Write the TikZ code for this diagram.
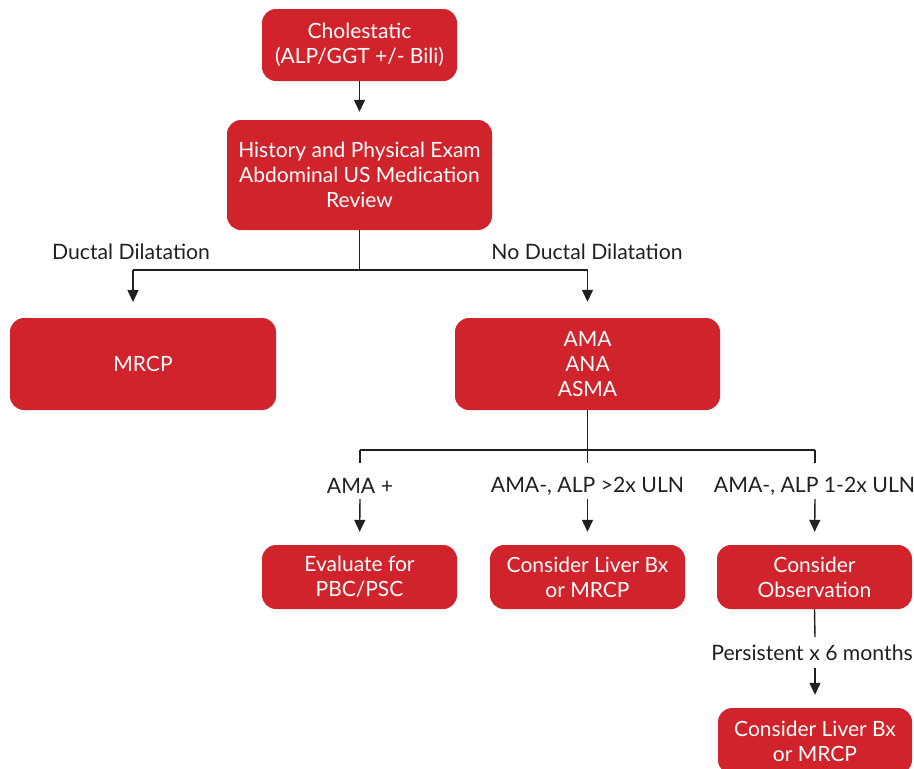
\documentclass[tikz,border=0pt]{standalone}
\usepackage{fontspec}
\setmainfont{Lato}
\usetikzlibrary{arrows.meta}
\definecolor{boxred}{HTML}{D0232B}
\definecolor{ink}{HTML}{231F20}
\begin{document}
\begin{tikzpicture}[x=1pt,y=-1pt,
  box/.style={draw=none,fill=boxred,text=white,rounded corners=14pt,align=center,
    font=\fontsize{21}{24.8}\selectfont,inner sep=0pt},
  lab/.style={text=ink,font=\fontsize{21.2}{24}\selectfont,inner sep=0pt},
  ln/.style={draw=ink,line width=1.4pt},
  arr/.style={ln,-{Triangle[width=11pt,length=12pt]}}]
\useasboundingbox (0,0) rectangle (914,769);
\clip (0,0) rectangle (914,769);
% boxes
\node[box,minimum width=195pt,minimum height=72pt] (c1) at (359.5,45) {Cholestatic\\(ALP/GGT +/- Bili)};
\node[box,minimum width=265pt,minimum height=110pt] (hist) at (359.5,175) {History and Physical Exam\\Abdominal US Medication\\Review};
\node[box,minimum width=266pt,minimum height=92pt] (mrcp) at (143,364) {MRCP};
\node[box,minimum width=265pt,minimum height=92pt] (ama) at (587.5,364) {AMA\\ANA\\ASMA};
\node[box,minimum width=195pt,minimum height=64pt] (eval) at (359.5,577) {Evaluate for\\PBC/PSC};
\node[box,minimum width=195pt,minimum height=64pt] (liver) at (587.5,577) {Consider Liver Bx\\or MRCP};
\node[box,minimum width=195pt,minimum height=64pt] (obs) at (814.5,577) {Consider\\Observation};
\node[box,minimum width=194pt,minimum height=66pt] (liver2) at (815,741) {Consider Liver Bx\\or MRCP};
% labels
\node[lab] (ldd) at (131,252) {Ductal Dilatation};
\node[lab] (lndd) at (587,252) {No Ductal Dilatation};
\node[lab] (l1) at (360,486) {AMA +};
\node[lab] (l2) at (587.5,486) {AMA-, ALP >2x ULN};
\node[lab] (l3) at (814.5,486) {AMA-, ALP 1-2x ULN};
\node[lab] (l4) at (812,653) {Persistent x 6 months};
% coordinates
\coordinate (j1) at (359.5,270);
\coordinate (jL) at (133,270);
\coordinate (tL) at (133,302);
\coordinate (jR) at (587.5,270);
\coordinate (j2) at (587.5,450);
\coordinate (k1) at (360,450);
\coordinate (k3) at (815,450);
\coordinate (s1) at (360,463);
\coordinate (s2) at (587.5,463);
\coordinate (s3) at (815,463);
\coordinate (a1) at (360,499);
\coordinate (a2) at (587.5,499);
\coordinate (a3) at (815,499);
\coordinate (p1) at (815,637);
\coordinate (p2) at (815,668);
% connectors
\draw[arr,shorten >=8pt] (c1.south) -- (hist.north);
\draw[ln] (hist.south) -- (j1);
\draw[ln] (jL) -- (jR);
\draw[arr] (jL) -- (tL);
\draw[arr,shorten >=16pt] (jR) -- (ama.north);
\draw[ln] (ama.south) -- (j2);
\draw[ln] (k1) -- (k3);
\draw[ln] (k1) -- (s1);
\draw[ln] (j2) -- (s2);
\draw[ln] (k3) -- (s3);
\draw[arr,shorten >=13pt] (a1) -- (eval.north);
\draw[arr,shorten >=13pt] (a2) -- (liver.north);
\draw[arr,shorten >=13pt] (a3) -- (obs.north);
\draw[ln] (obs.south) -- (p1);
\draw[arr,shorten >=13pt] (p2) -- (liver2.north);
\end{tikzpicture}
\end{document}
